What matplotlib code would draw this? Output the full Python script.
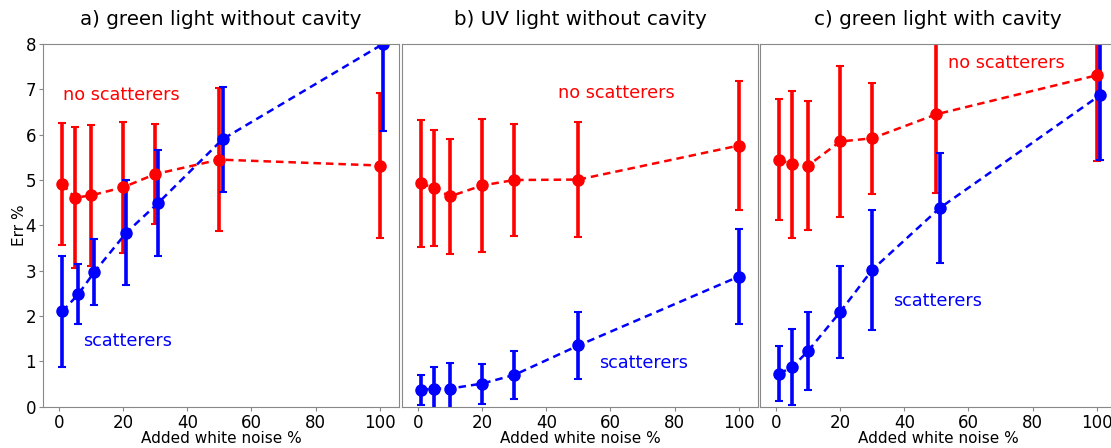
import matplotlib
matplotlib.use("Agg")
import matplotlib.pyplot as plt

# ---------------------------------------------------------
# Data
# ---------------------------------------------------------
titles = [
    "a) green light without cavity",
    "b) UV light without cavity",
    "c) green light with cavity",
]

# a) green light without cavity
a_red_x = [1, 5, 10, 20, 30, 50, 100]
a_red_y = [4.91, 4.61, 4.66, 4.84, 5.13, 5.45, 5.32]
a_red_err = [1.35, 1.56, 1.56, 1.45, 1.11, 1.57, 1.61]
a_blue_x = [1, 6, 11, 21, 31, 51, 101]
a_blue_y = [2.10, 2.48, 2.97, 3.84, 4.50, 5.90, 8.00]
a_blue_err = [1.22, 0.66, 0.73, 1.16, 1.17, 1.16, 1.92]

# b) UV light without cavity
b_red_x = [1, 5, 10, 20, 30, 50, 100]
b_red_y = [4.93, 4.82, 4.64, 4.88, 5.00, 5.01, 5.76]
b_red_err = [1.40, 1.28, 1.27, 1.47, 1.23, 1.26, 1.43]
b_blue_x = [1, 5, 10, 20, 30, 50, 100]
b_blue_y = [0.37, 0.40, 0.40, 0.51, 0.70, 1.35, 2.87]
b_blue_err = [0.34, 0.47, 0.57, 0.44, 0.53, 0.73, 1.05]

# c) green light with cavity
c_red_x = [1, 5, 10, 20, 30, 50, 100]
c_red_y = [5.45, 5.35, 5.32, 5.85, 5.92, 6.45, 7.31]
c_red_err = [1.33, 1.62, 1.42, 1.67, 1.23, 1.73, 1.88]
c_blue_x = [1, 5, 10, 20, 30, 51, 101]
c_blue_y = [0.73, 0.87, 1.23, 2.09, 3.02, 4.38, 6.87]
c_blue_err = [0.60, 0.84, 0.86, 1.01, 1.32, 1.22, 1.42]

panels = [
    (a_red_x, a_red_y, a_red_err, a_blue_x, a_blue_y, a_blue_err),
    (b_red_x, b_red_y, b_red_err, b_blue_x, b_blue_y, b_blue_err),
    (c_red_x, c_red_y, c_red_err, c_blue_x, c_blue_y, c_blue_err),
]

# text label positions (data coords)
red_label_pos = [(1.2, 6.88), (43.6, 6.93), (53.5, 7.57)]
blue_label_pos = [(7.5, 1.45), (56.3, 0.96), (36.4, 2.33)]

# ---------------------------------------------------------
# Figure
# ---------------------------------------------------------
fig = plt.figure(figsize=(11.11, 4.48), dpi=100)

lefts = [43, 402, 760]
width = 356
bottom = 1 - 406.7 / 448
height = (406.7 - 44) / 448

spine_color = "#888888"

for i, (rx, ry, re, bx, by, be) in enumerate(panels):
    ax = fig.add_axes([lefts[i] / 1111, bottom, width / 1111, height])

    ax.errorbar(rx, ry, yerr=re, color="red", fmt="o--", ms=8, lw=1.8,
                elinewidth=2.6, capsize=3, capthick=1.5, dashes=(3, 2))
    ax.errorbar(bx, by, yerr=be, color="blue", fmt="o--", ms=8, lw=1.8,
                elinewidth=2.6, capsize=3, capthick=1.5, dashes=(3, 2))

    ax.set_xlim(-5, 106)
    ax.set_ylim(0, 8)
    ax.set_xticks([0, 20, 40, 60, 80, 100])
    ax.set_title(titles[i], fontsize=14.3, pad=14)
    ax.set_xlabel("Added white noise %", fontsize=11)
    ax.xaxis.set_label_coords(0.5, -0.066)

    tx, ty = red_label_pos[i]
    ax.text(tx, ty, "no scatterers", color="red", fontsize=12.7, va="center")
    tx, ty = blue_label_pos[i]
    ax.text(tx, ty, "scatterers", color="blue", fontsize=12.7, va="center")

    for s in ax.spines.values():
        s.set_color(spine_color)
    ax.tick_params(labelsize=12, length=3, pad=2, color=spine_color)

    if i == 0:
        ax.set_ylabel("Err %", fontsize=11)
        ax.yaxis.set_label_coords(-0.046, 0.5)
    else:
        ax.set_yticks([])
    if i == 2:
        # right edge of the last panel is cut off in the original
        ax.spines["right"].set_visible(False)

fig.savefig("out.png", dpi=100)
